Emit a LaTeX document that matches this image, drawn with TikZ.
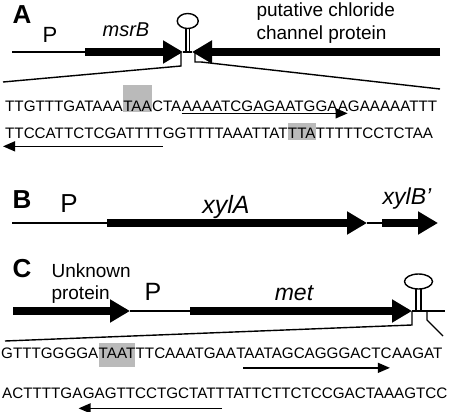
\documentclass[tikz,border=0pt]{standalone}
\usepackage{fontspec}
\setmainfont{Liberation Sans}
\usetikzlibrary{arrows.meta}

\tikzset{
  seq/.style={inner sep=0pt, anchor=base west, font=\fontsize{15.2}{18}\selectfont},
  hl/.style 2 args={fill=black!27, text height=#1, text depth=#2},
  lbl/.style={font=\fontsize{#1}{#1}\selectfont}, lbl/.default=19,
  gname/.style={font=\fontsize{#1}{#1}\selectfont\itshape}, gname/.default=20,
  panel/.style={font=\fontsize{26}{30}\selectfont\bfseries},
  gene/.style={line width=7.5pt, -{Triangle[length=20pt,width=22pt]}},
  dna/.style={line width=1.4pt},
  rep/.style={line width=1.3pt, -{Triangle[length=12pt,width=10pt]}},
}

\begin{document}
\begin{tikzpicture}[x=1pt,y=-1pt]
\useasboundingbox (0,0) rectangle (450,412);

% --- A ---
\node (labA) at (22,15) [panel] {A};
\node (PA) at (50,35) [lbl=22] {P};
\node (msrB) at (126,30) [gname] {msrB};
\node (chl1) at (253,17) [lbl, anchor=base west] {putative chloride};
\node (chl2) at (253,40) [lbl, anchor=base west] {channel protein};

\coordinate (a0) at (12,52);
\coordinate (a1) at (85,52);
\coordinate (a2) at (183,52);
\coordinate (a3) at (192,52);
\coordinate (a4) at (440,52);
\draw[dna] (a0) -- (a1);
\draw[gene] (a1) -- (a2);
\draw[dna] (a2) -- (a3);
\draw[gene] (a4) -- (a3);
% hairpin
\draw[line width=1.2pt] (186,29) -- (186,52) (189.5,29) -- (189.5,52);
\draw[line width=1.4pt] (187.75,21) ellipse [x radius=10.5pt, y radius=7.5pt];
% zoom lines
\draw[dna] (181,53) -- (181,66) -- (3,82);
\draw[dna] (195,53) -- (195,62) -- (201,62) -- (440,89);

\node (sa1) at (5,111.5) [seq] {TTGTTTGATAAA};
\node (sa2) at (sa1.base east) [seq, hl={26pt}{0pt}] {TAA};
\node (sa3) at (sa2.base east) [seq] {CTA};
\node (sa4) at (sa3.base east) [seq] {AAAATCGAGAATGGA};
\node (sa5) at (sa4.base east) [seq] {AGAAAAATTT};
\draw[rep] ([yshift=-1.5pt]sa4.south west) -- ([yshift=-1.5pt,xshift=10pt]sa4.south east);

\node (sb1) at (5,138) [seq] {TTCCATTCTCGATTTT};
\node (sb2) at (sb1.base east) [seq] {GGTTTTAAATTAT};
\node (sb3) at (sb2.base east) [seq, hl={15pt}{2pt}] {TTA};
\node (sb4) at (sb3.base east) [seq] {TTTTTCCTCTAA};
\draw[rep] ([yshift=-8pt]sb1.south east) -- ([yshift=-8pt,xshift=-2pt]sb1.south west);

% --- B ---
\node (labB) at (22,200) [panel] {B};
\node (PB) at (69,204) [lbl=26] {P};
\node (xylA) at (226,207) [gname=25] {xylA};
\node (xylB) at (407,199) [gname=23] {xylB’};

\coordinate (b0) at (12,223);
\coordinate (b1) at (107,223);
\coordinate (b2) at (367,223);
\coordinate (b3) at (382,223);
\coordinate (b4) at (438,223);
\draw[dna] (b0) -- (b1);
\draw[gene] (b1) -- (b2);
\draw[dna] (b2) -- (b3);
\draw[gene] (b3) -- (b4);

% --- C ---
\node (labC) at (22,269) [panel] {C};
\node (unk1) at (48,277) [lbl, anchor=base west] {Unknown};
\node (unk2) at (48,299) [lbl, anchor=base west] {protein};
\node (PC) at (153,292) [lbl=25] {P};
\node (met) at (294,293) [gname=23] {met};

\coordinate (c0) at (13,311);
\coordinate (c1) at (130,311);
\coordinate (c2) at (190,311);
\coordinate (c3) at (412,311);
\coordinate (c4) at (445,311);
\draw[gene] (c0) -- (c1);
\draw[dna] (c1) -- (c2);
\draw[gene] (c2) -- (c3);
\draw[dna] (c3) -- (c4);
% hairpin
\draw[line width=1.2pt] (416,289) -- (416,311) (421,289) -- (421,311);
\draw[line width=1.4pt] (418.5,281.5) ellipse [x radius=14pt, y radius=7.5pt];
% zoom lines
\draw[dna] (412,311) -- (412,325) -- (5,341);
\draw[dna] (427,311) -- (427,320) -- (443,336);

\node (sc1) at (1,358) [seq] {GTTTGGGGA};
\node (sc2) at (sc1.base east) [seq, hl={15pt}{9pt}] {TAAT};
\node (sc3) at (sc2.base east) [seq] {TTCAAATGAA};
\node (sc4) at (sc3.base east) [seq] {TAATAGCAGGGACTC};
\node (sc5) at (sc4.base east) [seq] {AAGAT};
\draw[rep] ([yshift=-9.5pt,xshift=7pt]sc4.south west) -- ([yshift=-9.5pt,xshift=-2pt]sc4.south east);

\node (sd1) at (2,398.5) [seq] {ACTTTTGA};
\node (sd2) at (sd1.base east) [seq] {GAGTTCCTGCTATT};
\node (sd3) at (sd2.base east) [seq] {TATTCTTCTCCGACTAAAGTCC};
\draw[rep] ([yshift=-9.5pt,xshift=-3pt]sd2.south east) -- ([yshift=-9.5pt,xshift=-4pt]sd2.south west);
\end{tikzpicture}
\end{document}
